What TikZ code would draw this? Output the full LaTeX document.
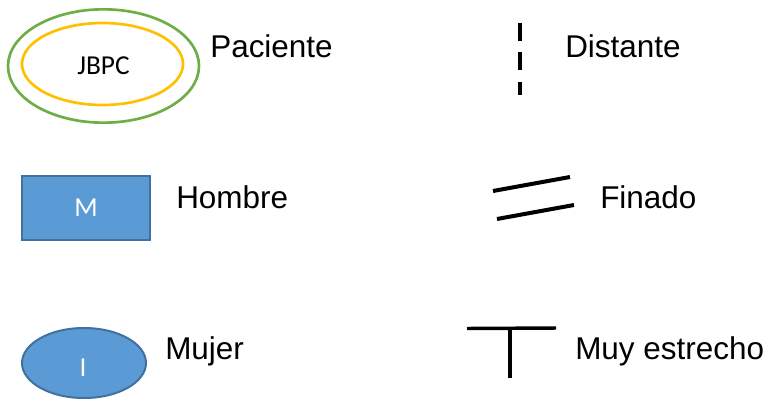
\documentclass[tikz,border=0pt]{standalone}
\usepackage{fontspec}
\setmainfont{Liberation Sans}
\newfontfamily\calfont{Carlito}
\usetikzlibrary{shapes.geometric}
\definecolor{legblue}{HTML}{5B9BD5}
\definecolor{legedge}{HTML}{41719C}
\definecolor{leggreen}{HTML}{70AD47}
\definecolor{legyellow}{HTML}{FFC000}
\tikzset{
  lbl/.style={anchor=base west, inner sep=0pt, font=\fontsize{23.6}{28}\selectfont},
  inner/.style={font=\calfont\fontsize{20.5}{24}\selectfont, inner sep=0pt},
  symline/.style={line width=3pt, black},
}
\begin{document}
\begin{tikzpicture}[x=0.75pt, y=-0.75pt]
\useasboundingbox (0,0) rectangle (768,400);
% patient: double ellipse
\node[ellipse, draw=leggreen, line width=2pt, inner sep=0pt,
      minimum width=143.25pt, minimum height=85pt] (pout) at (103.5,66) {};
\node[ellipse, draw=legyellow, line width=2pt, inner sep=0pt,
      minimum width=120.75pt, minimum height=61.5pt] (pin) at (102.5,64) {};
\node[inner] (jbpc) at (103.5,66) {JBPC};
\node[lbl] (tpac) at (210,57) {Paciente};
% male
\node[rectangle, draw=legedge, fill=legblue, line width=1.5pt, inner sep=0pt,
      minimum width=96pt, minimum height=48pt] (male) at (86,208) {};
\node[inner, text=white] at (male.center) {M};
\node[lbl] (thom) at (176,208) {Hombre};
% female
\node[ellipse, draw=legedge, fill=legblue, line width=1.5pt, inner sep=0pt,
      minimum width=93pt, minimum height=52.5pt] (fem) at (84,363) {};
\node[inner, text=white] at (83,368) {I};
\node[lbl] (tmuj) at (165,359) {Mujer};
% distant
\coordinate (d1) at (520,23);
\coordinate (d2) at (520,95);
\draw[line width=2.4pt, dash pattern=on 13.5pt off 8.5pt] (d1) -- (d2);
\node[lbl] (tdis) at (565,57) {Distante};
% deceased
\coordinate (f1a) at (493,191);
\coordinate (f1b) at (570,177);
\coordinate (f2a) at (497,219);
\coordinate (f2b) at (574,205);
\draw[symline] (f1a) -- (f1b);
\draw[symline] (f2a) -- (f2b);
\node[lbl] (tfin) at (600,208) {Finado};
% very close
\coordinate (ta) at (467,328.5);
\coordinate (tb) at (556,328);
\coordinate (tc) at (510,328.5);
\coordinate (td) at (510,378);
\draw[symline, line width=2.6pt] (ta) -- (tb);
\draw[symline, line width=2.6pt] (tc) -- (td);
\node[lbl] (test) at (575,359) {Muy estrecho};
\end{tikzpicture}
\end{document}
